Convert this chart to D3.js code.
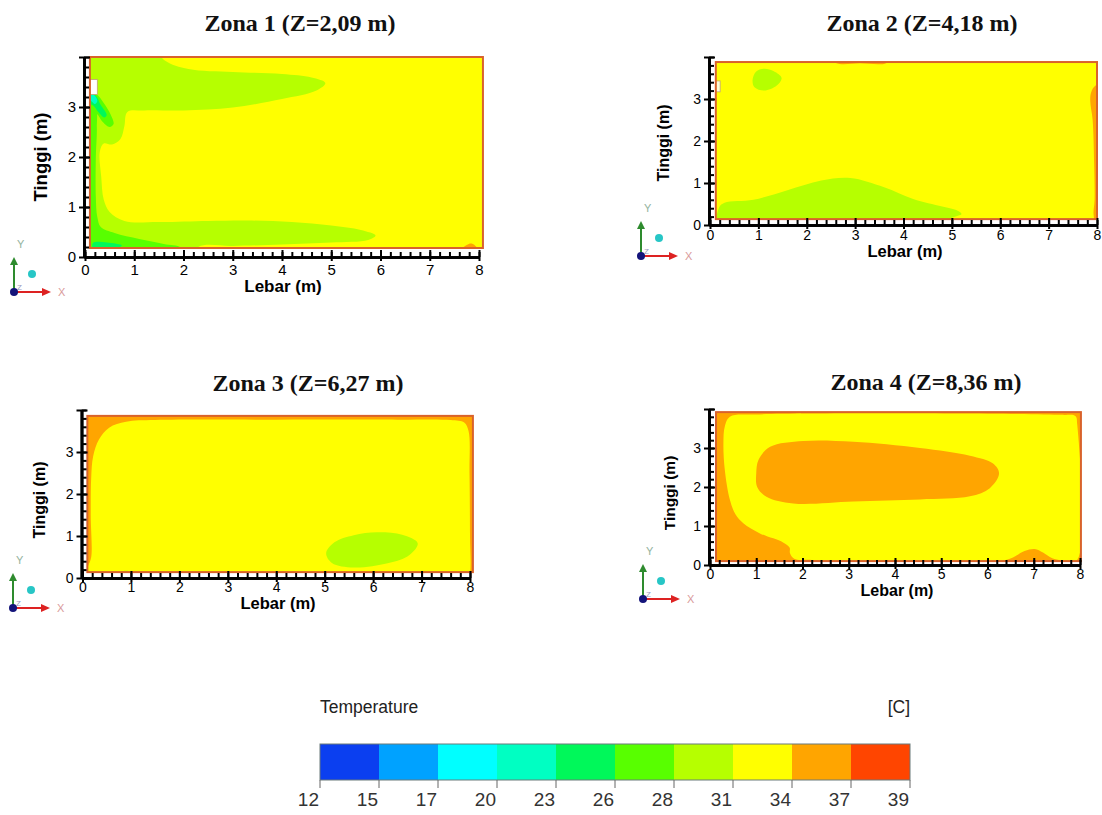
<!DOCTYPE html>
<html>
<head>
<meta charset="utf-8">
<script src="https://cdn.jsdelivr.net/npm/d3@7"></script>
<style>
  body { margin: 0; background: #fff; }
  svg { display: block; font-family: Arial, "Liberation Sans", sans-serif; }
</style>
</head>
<body>
<svg id="chart" width="1102" height="815"></svg>
<script>
// legend: temperature class limits and the colour of each class
const tempLabels = [12, 15, 17, 20, 23, 26, 28, 31, 34, 37, 39];
const bandColors = ["#0b3ff0", "#00a2ff", "#00ffff", "#00ffc2", "#00f85a",
                    "#58ff00", "#b6ff00", "#ffff00", "#ffa500", "#ff4500"];

// contour regions: t = class index, pts = [lebar m, tinggi m]
const zona1Regions = [
  { t: 6, pts: [[-0.3,4.3],[1.3,4.3],[1.62,3.93],[2.1,3.76],[3.0,3.7],[4.0,3.66],[4.6,3.59],[4.88,3.48],[4.7,3.33],[4.0,3.16],[3.0,2.99],[2.0,2.93],[1.2,2.93],[0.86,2.9],[0.8,2.62],[0.72,2.36],[0.55,2.25],[0.38,2.27],[0.3,2.1],[0.33,1.6],[0.38,1.15],[0.5,0.9],[0.8,0.72],[1.5,0.7],[2.5,0.72],[3.3,0.73],[4.2,0.7],[5.0,0.63],[5.6,0.54],[5.9,0.43],[5.75,0.34],[5.0,0.29],[4.0,0.25],[3.0,0.22],[2.3,0.2],[2.0,-0.2],[-0.3,-0.2]] },
  { t: 5, pts: [[-0.3,3.0],[0.2,2.98],[0.24,2.6],[0.22,2.0],[0.22,1.2],[0.25,0.8],[0.32,0.6],[0.6,0.48],[1.1,0.36],[1.6,0.26],[1.95,0.18],[2.0,-0.2],[-0.3,-0.2]] },
  { t: 5, pts: [[-0.2,3.28],[0.22,3.26],[0.38,3.08],[0.52,2.85],[0.58,2.66],[0.5,2.6],[0.36,2.7],[0.22,2.88],[-0.2,3.0]] },
  { t: 4, pts: [[-0.2,3.27],[0.2,3.24],[0.32,3.04],[0.44,2.84],[0.39,2.79],[0.27,2.9],[0.15,3.04],[-0.2,3.1]] },
  { t: 3, pts: [[-0.2,3.27],[0.17,3.25],[0.25,3.12],[0.2,3.06],[0.12,3.12],[-0.2,3.17]] },
  { t: 4, pts: [[0.15,0.19],[0.17,0.29],[0.45,0.29],[0.75,0.23],[0.6,0.17],[0.2,0.16]] },
  { t: 8, pts: [[7.6,0.1],[7.75,0.24],[7.85,0.27],[7.95,0.2],[8.0,0.1]] }
];

const zona2Regions = [
  { t: 6, pts: [[0.88,3.45],[0.95,3.65],[1.12,3.72],[1.32,3.66],[1.48,3.5],[1.38,3.32],[1.12,3.2],[0.92,3.28]] },
  { t: 6, pts: [[0.19,-0.1],[0.19,0.42],[0.3,0.53],[0.9,0.6],[1.6,0.83],[2.3,1.06],[2.9,1.12],[3.6,0.9],[4.2,0.62],[4.8,0.44],[5.12,0.34],[5.2,0.26],[5.0,0.17],[4.6,-0.1]] },
  { t: 8, pts: [[8.3,3.42],[7.97,3.32],[7.88,3.16],[7.86,2.96],[7.91,2.5],[7.94,1.5],[7.95,0.6],[7.93,0.25],[7.98,0.05],[8.3,0.0]] },
  { t: 8, pts: [[2.4,4.1],[2.6,3.86],[3.1,3.85],[3.65,3.86],[3.8,4.1]] }
];

const zona3Regions = [
  { t: 7, pts: [[0.18,0.5],[0.17,1.5],[0.18,2.4],[0.22,2.9],[0.34,3.3],[0.55,3.58],[0.9,3.72],[1.5,3.76],[4.0,3.77],[6.5,3.77],[7.6,3.76],[7.88,3.7],[7.97,3.5],[7.99,2.5],[8.0,1.0],[8.0,0.1],[7.9,-0.3],[0.3,-0.3],[0.05,0.1],[0.12,0.3]] },
  { t: 6, pts: [[5.03,0.59],[5.2,0.85],[5.6,1.02],[6.08,1.09],[6.6,1.03],[6.92,0.83],[6.75,0.55],[6.3,0.35],[5.6,0.25],[5.15,0.36]] },
  { t: 6, pts: [[0.78,0.14],[0.9,0.17],[1.02,0.14],[0.9,0.11]] }
];

const zona4Regions = [
  { t: 7, pts: [[1.0,3.86],[0.43,3.8],[0.32,3.55],[0.29,3.12],[0.32,2.44],[0.43,1.67],[0.55,1.3],[0.72,1.07],[1.08,0.81],[1.58,0.58],[1.72,0.45],[1.73,0.3],[1.82,0.16],[2.2,0.13],[6.4,0.13],[6.8,0.36],[7.02,0.41],[7.2,0.32],[7.4,0.17],[7.6,0.12],[7.93,0.12],[7.94,3.6],[7.9,3.82],[7.6,3.85]] },
  { t: 8, pts: [[1.0,2.35],[1.05,2.7],[1.3,3.03],[2.02,3.18],[3.1,3.16],[4.54,3.0],[5.62,2.8],[6.12,2.6],[6.25,2.35],[6.05,1.97],[5.62,1.76],[4.54,1.68],[3.1,1.63],[1.8,1.58],[1.22,1.75],[1.02,2.0]] }
];

// room extent in metres [x0, x1, y0, y1] and inlet opening
const zona1Room = [0.1, 8.08, 0.18, 4.0], zona1Inlet = [0.1, 0.25, 3.25, 3.55];
const zona2Room = [0.12, 8.0, 0.14, 3.88], zona2Inlet = [0.12, 0.21, 3.17, 3.43];
const zona3Room = [0.1, 8.06, 0.14, 3.86];
const zona4Room = [0.13, 8.02, 0.1, 3.92];

const xTicks = d3.range(0, 9, 1);
const yTicks = d3.range(0, 5, 1);

const panels = [
  { title: "Zona 1 (Z=2,09 m)", regions: zona1Regions, base: 7, room: zona1Room, inlet: zona1Inlet,
    xr: [85, 479], yr: [257, 57], titleXY: [300, 31], lebarXY: [283, 292], tinggiXY: [47, 157],
    fs: { tick: 15, lebar: 17, tinggi: 18.5 }, tickPad: 3, triad: [14, 292] },
  { title: "Zona 2 (Z=4,18 m)", regions: zona2Regions, base: 7, room: zona2Room, inlet: zona2Inlet,
    xr: [710, 1097], yr: [225, 57], titleXY: [922, 31], lebarXY: [905, 257], tinggiXY: [669, 143],
    fs: { tick: 14, lebar: 16.5, tinggi: 16 }, tickPad: 1, triad: [641, 256] },
  { title: "Zona 3 (Z=6,27 m)", regions: zona3Regions, base: 8, room: zona3Room, inlet: null,
    xr: [82.5, 470], yr: [578, 410], titleXY: [308, 391], lebarXY: [278, 609], tinggiXY: [45, 500],
    fs: { tick: 14, lebar: 16.5, tinggi: 16 }, tickPad: 0, triad: [13, 608] },
  { title: "Zona 4 (Z=8,36 m)", regions: zona4Regions, base: 8, room: zona4Room, inlet: null,
    xr: [710, 1080], yr: [565, 409], titleXY: [926, 390], lebarXY: [897, 596], tinggiXY: [675, 493],
    fs: { tick: 14, lebar: 16, tinggi: 15.5 }, tickPad: 0, triad: [643, 599] }
];

const svg = d3.select("#chart");

function drawTriad(g, ox, oy) {
  g.append("line").attr("x1", ox).attr("y1", oy).attr("x2", ox).attr("y2", oy - 28)
    .attr("stroke", "#2e8b2e").attr("stroke-width", 2);
  g.append("path").attr("d", `M${ox - 4},${oy - 27}L${ox + 4},${oy - 27}L${ox},${oy - 35}Z`).attr("fill", "#2e8b2e");
  g.append("line").attr("x1", ox).attr("y1", oy).attr("x2", ox + 29).attr("y2", oy)
    .attr("stroke", "#dd2222").attr("stroke-width", 2);
  g.append("path").attr("d", `M${ox + 28},${oy - 4}L${ox + 28},${oy + 4}L${ox + 37},${oy}Z`).attr("fill", "#dd2222");
  g.append("circle").attr("cx", ox).attr("cy", oy).attr("r", 4).attr("fill", "#14147a");
  g.append("circle").attr("cx", ox + 18).attr("cy", oy - 18).attr("r", 4).attr("fill", "#27c6c6");
  g.append("text").attr("x", ox + 3).attr("y", oy - 44).attr("font-size", 11).attr("fill", "#93b39e").text("Y");
  g.append("text").attr("x", ox + 44).attr("y", oy + 4).attr("font-size", 11).attr("fill", "#d99a9a").text("X");
  g.append("text").attr("x", ox + 3).attr("y", oy - 2).attr("font-size", 8).attr("fill", "#9a9ac0").text("Z");
}

panels.forEach((p, i) => {
  const x = d3.scaleLinear().domain([0, 8]).range(p.xr);
  const y = d3.scaleLinear().domain([0, 4]).range(p.yr);
  const g = svg.append("g");
  const [rx0, rx1, ry0, ry1] = p.room;

  // title
  g.append("text").attr("x", p.titleXY[0]).attr("y", p.titleXY[1]).attr("text-anchor", "middle")
    .attr("font-family", '"Liberation Serif", "Times New Roman", serif').attr("font-weight", "bold")
    .attr("font-size", 24).attr("fill", "#111").text(p.title);

  // contour field clipped to the room
  const clipId = "room" + i;
  g.append("clipPath").attr("id", clipId).append("rect")
    .attr("x", x(rx0)).attr("y", y(ry1)).attr("width", x(rx1) - x(rx0)).attr("height", y(ry0) - y(ry1));
  const field = g.append("g").attr("clip-path", `url(#${clipId})`);
  field.append("rect")
    .attr("x", x(rx0)).attr("y", y(ry1)).attr("width", x(rx1) - x(rx0)).attr("height", y(ry0) - y(ry1))
    .attr("fill", bandColors[p.base]);

  const line = d3.line().x(d => x(d[0])).y(d => y(d[1])).curve(d3.curveCatmullRomClosed.alpha(0.5));
  field.selectAll("path.band")
    .data(p.regions)
    .join("path")
    .attr("class", "band")
    .attr("d", d => line(d.pts))
    .attr("fill", d => bandColors[d.t]);

  if (p.inlet) {
    const [ix0, ix1, iy0, iy1] = p.inlet;
    field.append("rect").attr("x", x(ix0)).attr("y", y(iy1)).attr("width", x(ix1) - x(ix0)).attr("height", y(iy0) - y(iy1))
      .attr("fill", i === 0 ? "#ffffff" : "#fdfdd8").attr("stroke", "#c0a070").attr("stroke-width", 0.8);
  }

  // room wall
  g.append("rect")
    .attr("x", x(rx0)).attr("y", y(ry1)).attr("width", x(rx1) - x(rx0)).attr("height", y(ry0) - y(ry1))
    .attr("fill", "none").attr("stroke", "#d9622b").attr("stroke-width", 2);

  // y axis
  const yAx = g.append("g").attr("transform", `translate(${x(0) - 1},0)`);
  yAx.append("g").call(d3.axisLeft(y).tickValues(d3.range(0, 4.01, 0.2)).tickSizeInner(-5).tickSizeOuter(0).tickFormat(""));
  yAx.append("g").call(d3.axisLeft(y).tickValues(yTicks).tickSizeInner(-6).tickSizeOuter(0).tickFormat(""));
  yAx.append("g").call(d3.axisLeft(y).tickValues(yTicks).tickSizeInner(5).tickSizeOuter(0).tickPadding(3)
    .tickFormat(d => d < 4 ? d : ""));

  // x axis
  const xAx = g.append("g").attr("transform", `translate(0,${y(0)})`);
  xAx.append("g").call(d3.axisBottom(x).tickValues(d3.range(0, 8.01, 0.2)).tickSizeInner(-5).tickSizeOuter(0).tickFormat(""));
  xAx.append("g").call(d3.axisBottom(x).tickValues(xTicks).tickSizeInner(-7).tickSizeOuter(0).tickFormat(""));
  xAx.append("g").call(d3.axisBottom(x).tickValues(xTicks).tickSizeInner(4).tickSizeOuter(0).tickPadding(p.tickPad)
    .tickFormat(d => d));

  [yAx, xAx].forEach(ax => {
    ax.selectAll("g").attr("font-family", null).attr("font-size", null);
    ax.selectAll(".domain").attr("stroke", "#000").attr("stroke-width", 2.6);
    ax.selectAll(".tick line").attr("stroke", "#000").attr("stroke-width", 1.2);
    ax.selectAll(".tick text").attr("font-size", p.fs.tick).attr("fill", "#000");
  });
  yAx.selectAll("g:nth-child(n+2) .tick line").attr("stroke-width", 2);
  xAx.selectAll("g:nth-child(n+2) .tick line").attr("stroke-width", 2);

  // axis titles
  g.append("text").attr("x", p.lebarXY[0]).attr("y", p.lebarXY[1]).attr("text-anchor", "middle")
    .attr("font-weight", "bold").attr("font-size", p.fs.lebar).attr("fill", "#000").text("Lebar (m)");
  g.append("text").attr("transform", `translate(${p.tinggiXY[0]},${p.tinggiXY[1]}) rotate(-90)`)
    .attr("text-anchor", "middle").attr("font-weight", "bold").attr("font-size", p.fs.tinggi)
    .attr("fill", "#000").text("Tinggi (m)");

  drawTriad(g, p.triad[0], p.triad[1]);
});

// colour legend
const lx = d3.scaleLinear().domain([0, bandColors.length]).range([320, 910]);
const leg = svg.append("g");
leg.append("text").attr("x", 320).attr("y", 713).attr("font-size", 17.5).attr("fill", "#222").text("Temperature");
leg.append("text").attr("x", 910).attr("y", 713).attr("text-anchor", "end").attr("font-size", 17.5).attr("fill", "#222").text("[C]");
leg.selectAll("rect.cls")
  .data(bandColors)
  .join("rect")
  .attr("class", "cls")
  .attr("x", (d, i) => lx(i)).attr("y", 744)
  .attr("width", (d, i) => lx(i + 1) - lx(i)).attr("height", 36)
  .attr("fill", d => d);
leg.append("rect").attr("x", 320).attr("y", 744).attr("width", 590).attr("height", 36)
  .attr("fill", "none").attr("stroke", "#6a7a7a").attr("stroke-width", 1);
leg.selectAll("line.tk")
  .data(tempLabels)
  .join("line")
  .attr("class", "tk")
  .attr("x1", (d, i) => lx(i)).attr("x2", (d, i) => lx(i))
  .attr("y1", 780).attr("y2", 788)
  .attr("stroke", "#666").attr("stroke-width", 1);
leg.selectAll("text.lb")
  .data(tempLabels)
  .join("text")
  .attr("class", "lb")
  .attr("x", (d, i) => lx(i) - 1).attr("y", 806)
  .attr("text-anchor", "end")
  .attr("font-size", 19).attr("fill", "#333")
  .text(d => d);
</script>
</body>
</html>
